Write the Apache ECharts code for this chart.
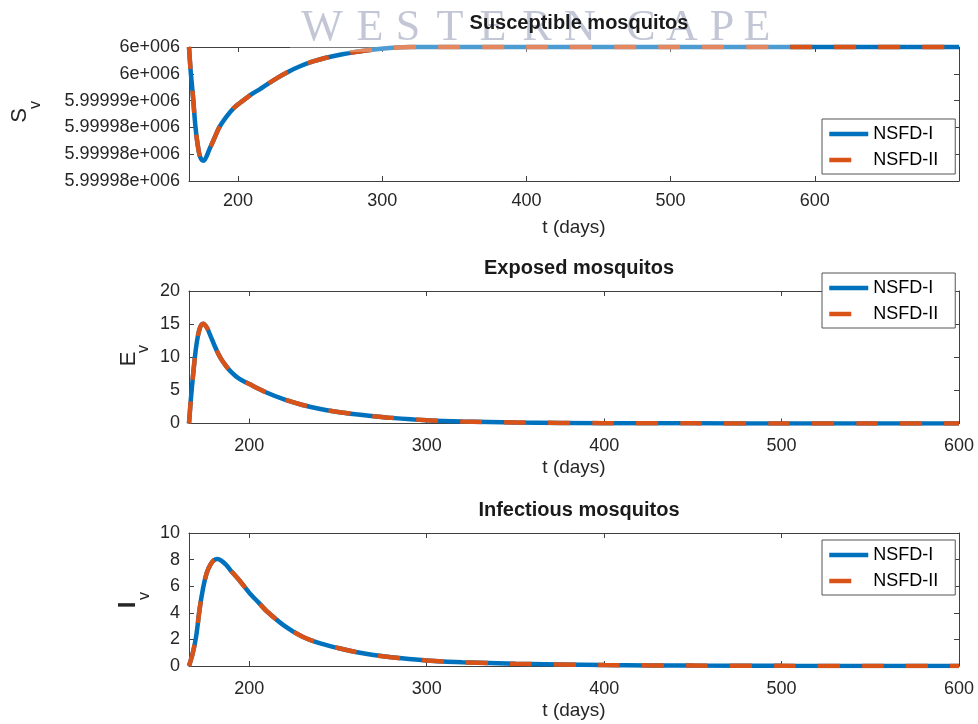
<!DOCTYPE html>
<html>
<head>
<meta charset="utf-8">
<script src="https://cdn.jsdelivr.net/npm/echarts@6/dist/echarts.min.js"></script>
<style>html,body{margin:0;padding:0;background:#fff}#c{width:978px;height:724px}</style>
</head>
<body>
<div id="c"></div>
<script>
// ---------- data ----------
const seriesNames = ['NSFD-I', 'NSFD-II'];
const panelTitles = ['Susceptible mosquitos', 'Exposed mosquitos', 'Infectious mosquitos'];
const xLabel = 't (days)';
const xTickValues = [200, 300, 400, 500, 600];
const svTickLabels = ['5.99998e+006', '5.99998e+006', '5.99998e+006', '5.99999e+006', '6e+006', '6e+006'];

const sTimes = [166,167,168,169,170,171,172,173,174,175,176,177,178,180,183,187,192,197,203,210,215,220,227,235,243,252,261,275,290,305,320,400,500,600,700];
const svNSFD1 = [6000000,5999996,5999993,5999990,5999986.5,5999983.8,5999981.8,5999980.2,5999979.3,5999978.9,5999978.8,5999979.0,5999979.5,5999980.8,5999982.6,5999985,5999987,5999988.6,5999989.9,5999991.3,5999992.1,5999993,5999994.2,5999995.4,5999996.4,5999997.3,5999998,5999998.8,5999999.4,5999999.8,6000000,6000000,6000000,6000000,6000000];
const svNSFD2 = [6000000,5999996,5999993,5999990,5999986.5,5999983.8,5999981.8,5999980.2,5999979.3,5999978.9,5999978.8,5999979.0,5999979.5,5999980.8,5999982.6,5999985,5999987,5999988.6,5999989.9,5999991.3,5999992.1,5999993,5999994.2,5999995.4,5999996.4,5999997.3,5999998,5999998.8,5999999.4,5999999.8,6000000,6000000,6000000,6000000,6000000];

const eTimes = [166,167,168,169,170,171,172,173,174,176,178,180,182,184,186,188,190,193,196,200,210,220,230,240,250,260,270,280,300,320,350,400,450,500,550,600];
const evNSFD1 = [0,3.5,6.5,9.2,11.5,13.2,14.3,14.9,15.05,14.5,13.3,12.0,10.8,9.8,9.0,8.3,7.7,7.0,6.5,5.95,4.65,3.6,2.8,2.2,1.75,1.4,1.1,0.85,0.5,0.3,0.15,0.05,0.02,0.01,0,0];
const evNSFD2 = [0,3.5,6.5,9.2,11.5,13.2,14.3,14.9,15.05,14.5,13.3,12.0,10.8,9.8,9.0,8.3,7.7,7.0,6.5,5.95,4.65,3.6,2.8,2.2,1.75,1.4,1.1,0.85,0.5,0.3,0.15,0.05,0.02,0.01,0,0];

const iTimes = [166,168,170,172,174,176,178,180,182,184,187,190,194,200,205,210,220,230,240,250,260,270,280,290,300,320,350,400,450,500,550,600];
const ivNSFD1 = [0,0.9,2.2,4.3,5.9,7.0,7.6,7.95,8.05,7.95,7.6,7.1,6.5,5.5,4.8,4.1,3.0,2.2,1.7,1.35,1.05,0.82,0.65,0.52,0.42,0.28,0.17,0.07,0.03,0.01,0,0];
const ivNSFD2 = [0,0.9,2.2,4.3,5.9,7.0,7.6,7.95,8.05,7.95,7.6,7.1,6.5,5.5,4.8,4.1,3.0,2.2,1.7,1.35,1.05,0.82,0.65,0.52,0.42,0.28,0.17,0.07,0.03,0.01,0,0];

const watermarkText = 'WESTERN CAPE';

// ---------- layout / style ----------
const FONT = '"Liberation Sans", Arial, Helvetica, sans-serif';
const AXC = '#404040';
const TXT = '#262626';
const BLUE = '#0072BD';
const ORANGE = '#D95319';
const LW = 4.5;

const grids = [
  {left: 189, top: 47, width: 770, height: 134},
  {left: 189, top: 291, width: 770, height: 132.5},
  {left: 189, top: 533, width: 770, height: 133}
];
const xMax = [700, 600, 600];
const yCfg = [
  {min: 5999975, max: 6000000, interval: 5},
  {min: 0, max: 20, interval: 5},
  {min: 0, max: 10, interval: 2}
];
const pair = (ts, vs) => ts.map((t, i) => [t, vs[i]]);
const dataSets = [
  [pair(sTimes, svNSFD1), pair(sTimes, svNSFD2)],
  [pair(eTimes, evNSFD1), pair(eTimes, evNSFD2)],
  [pair(iTimes, ivNSFD1), pair(iTimes, ivNSFD2)]
];

const xAxes = [], yAxes = [], series = [], legends = [], titles = [];
const titleY = [8, 253, 495];
const legendTop = [119, 273, 540];

grids.forEach((g, gi) => {
  const common = {
    type: 'value', gridIndex: gi, min: 166, max: xMax[gi],
    axisLine: {show: true, onZero: false, lineStyle: {color: AXC, width: 1}},
    splitLine: {show: false}
  };
  xAxes.push(Object.assign({}, common, {
    position: 'bottom',
    axisTick: {show: true, inside: true, length: 5, customValues: xTickValues, lineStyle: {color: AXC}},
    axisLabel: {show: true, customValues: xTickValues, color: TXT, fontSize: 18, fontFamily: FONT, margin: gi === 0 ? 11 : 14},
    name: xLabel, nameLocation: 'middle', nameGap: gi === 0 ? 37 : 35,
    nameTextStyle: {color: TXT, fontSize: 19, fontFamily: FONT}
  }));
  xAxes.push(Object.assign({}, common, {
    position: 'top',
    axisTick: {show: true, inside: true, length: 5, customValues: xTickValues, lineStyle: {color: AXC}},
    axisLabel: {show: false}
  }));
  const yc = {
    type: 'value', gridIndex: gi, min: yCfg[gi].min, max: yCfg[gi].max, interval: yCfg[gi].interval,
    axisLine: {show: true, lineStyle: {color: AXC, width: 1}},
    splitLine: {show: false}
  };
  yAxes.push(Object.assign({}, yc, {
    position: 'left',
    axisTick: {show: true, inside: true, length: 5, lineStyle: {color: AXC}},
    axisLabel: {
      show: true, color: TXT, fontSize: 18, fontFamily: FONT, margin: 9,
      formatter: gi === 0 ? (v) => svTickLabels[Math.round((v - yCfg[0].min) / yCfg[0].interval)] : (v) => String(v)
    }
  }));
  yAxes.push(Object.assign({}, yc, {
    position: 'right',
    axisTick: {show: true, inside: true, length: 5, lineStyle: {color: AXC}},
    axisLabel: {show: false}
  }));
  series.push({
    name: seriesNames[0], type: 'line', xAxisIndex: gi * 2, yAxisIndex: gi * 2,
    data: dataSets[gi][0], showSymbol: false, symbol: 'none', smooth: 0.3,
    clip: gi !== 0,
    lineStyle: {color: BLUE, width: LW}, itemStyle: {color: BLUE}, z: 3
  });
  series.push({
    name: seriesNames[1], type: 'line', xAxisIndex: gi * 2, yAxisIndex: gi * 2,
    data: dataSets[gi][1], showSymbol: false, symbol: 'none', smooth: 0.3,
    clip: gi !== 0,
    lineStyle: {color: ORANGE, width: LW, type: [22, 22]}, itemStyle: {color: ORANGE}, z: 4
  });
  legends.push({
    data: [
      {name: seriesNames[0], itemStyle: {opacity: 0}, lineStyle: {width: LW, color: BLUE, type: 'solid'}},
      {name: seriesNames[1], itemStyle: {opacity: 0}, lineStyle: {width: LW, color: ORANGE, type: [22, 22]}}
    ],
    orient: 'vertical', left: 822, top: legendTop[gi],
    padding: [6, 17, 5, 5], itemGap: 8, itemWidth: 39, itemHeight: 14,
    backgroundColor: '#fff', borderColor: '#555', borderWidth: 1,
    itemStyle: {opacity: 0},
    lineStyle: {width: LW},
    textStyle: {color: '#000', fontSize: 18, fontFamily: FONT, lineHeight: 18},
    selectedMode: false, z: 20
  });
  titles.push({
    text: panelTitles[gi], left: 574, top: titleY[gi], textAlign: 'center',
    textStyle: {color: '#1a1a1a', fontSize: 20, fontWeight: 'bold', fontFamily: FONT}, z: 60
  });
});

// watermark letters
const wmX = [322, 370, 408, 450, 493, 537, 580, null, 641, 682, 722, 757];
const wmEls = [];
watermarkText.split('').forEach((ch, i) => {
  if (ch === ' ') return;
  wmEls.push({type: 'text', x: wmX[i], y: 28, z: 51, silent: true,
    style: {text: ch, fill: 'rgba(155,160,185,0.6)', fontSize: 44, fontFamily: '"Liberation Serif", "DejaVu Serif", serif',
      align: 'center', verticalAlign: 'middle'}});
});

const yLabelEls = [
  {type: 'text', x: 20, y: 115.5, rotation: Math.PI / 2, style: {text: 'S', fontSize: 22, fill: TXT, fontFamily: FONT, align: 'center', verticalAlign: 'middle'}},
  {type: 'text', x: 36, y: 105, rotation: Math.PI / 2, style: {text: 'v', fontSize: 16, fill: TXT, fontFamily: FONT, align: 'center', verticalAlign: 'middle'}},
  {type: 'text', x: 128.5, y: 359, rotation: Math.PI / 2, style: {text: 'E', fontSize: 22, fill: TXT, fontFamily: FONT, align: 'center', verticalAlign: 'middle'}},
  {type: 'text', x: 144, y: 349, rotation: Math.PI / 2, style: {text: 'v', fontSize: 16, fill: TXT, fontFamily: FONT, align: 'center', verticalAlign: 'middle'}},
  {type: 'text', x: 128.5, y: 605, rotation: Math.PI / 2, style: {text: 'I', fontSize: 24, fontWeight: 'bold', fill: TXT, fontFamily: FONT, align: 'center', verticalAlign: 'middle'}},
  {type: 'text', x: 145, y: 596, rotation: Math.PI / 2, style: {text: 'v', fontSize: 16, fill: TXT, fontFamily: FONT, align: 'center', verticalAlign: 'middle'}}
];

const option = {
  animation: false,
  backgroundColor: '#fff',
  textStyle: {fontFamily: FONT},
  title: titles,
  grid: grids.map(g => Object.assign({outerBoundsMode: 'none', containLabel: false}, g)),
  xAxis: xAxes,
  yAxis: yAxes,
  legend: legends,
  series: series,
  graphic: [
    {type: 'rect', shape: {x: 290, y: 0, width: 500, height: 52}, z: 50, silent: true, style: {fill: 'rgba(255,255,255,0.3)'}}
  ].concat(wmEls, yLabelEls)
};

const chart = echarts.init(document.getElementById('c'), null, {renderer: 'canvas'});
chart.setOption(option);
</script>
</body>
</html>
